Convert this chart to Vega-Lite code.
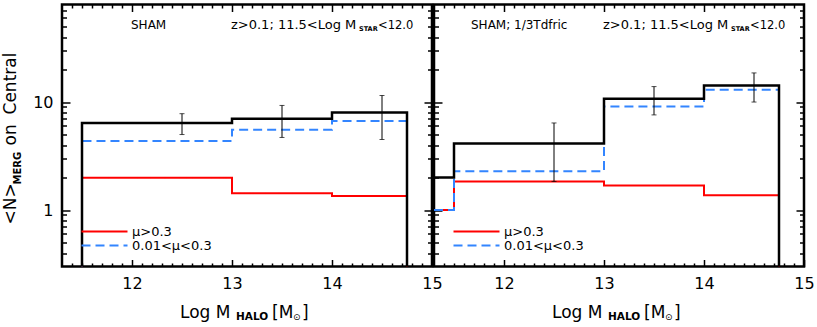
{
  "$schema": "https://vega.github.io/schema/vega-lite/v6.json",
  "background": "white",
  "padding": {"left": 0, "top": 2.5, "right": 0, "bottom": 0},
  "config": {
    "view": {"stroke": "black", "strokeWidth": 2.5},
    "font": "DejaVu Sans",
    "axis": {"grid": false, "domain": false, "ticks": true, "tickColor": "#000000", "tickWidth": 1.5, "tickOpacity": 1, "zindex": 1, "labelColor": "black", "labelFont": "DejaVu Sans", "labelFontSize": 16, "labelOverlap": false, "labelFlush": false, "labelBound": false, "title": null},
    "legend": {"labelFont": "DejaVu Sans", "labelFontSize": 13, "labelColor": "black"},
    "text": {"font": "DejaVu Sans", "color": "black"}
  },
  "datasets": {
    "sham": [
      {"series": "μ>0.3", "logM": 11.5, "n": 0.3, "i": 0},
      {"series": "μ>0.3", "logM": 11.5, "n": 1.99, "i": 1},
      {"series": "μ>0.3", "logM": 13, "n": 1.43, "i": 2},
      {"series": "μ>0.3", "logM": 14, "n": 1.35, "i": 3},
      {"series": "μ>0.3", "logM": 14.75, "n": 0.3, "i": 4},
      {"series": "0.01<μ<0.3", "logM": 11.5, "n": 0.3, "i": 0},
      {"series": "0.01<μ<0.3", "logM": 11.5, "n": 4.36, "i": 1},
      {"series": "0.01<μ<0.3", "logM": 13, "n": 5.55, "i": 2},
      {"series": "0.01<μ<0.3", "logM": 14, "n": 6.67, "i": 3},
      {"series": "0.01<μ<0.3", "logM": 14.75, "n": 0.3, "i": 4},
      {"series": "total", "logM": 11.5, "n": 0.3, "i": 0},
      {"series": "total", "logM": 11.5, "n": 6.4, "i": 1},
      {"series": "total", "logM": 13, "n": 7.0, "i": 2},
      {"series": "total", "logM": 14, "n": 8.0, "i": 3},
      {"series": "total", "logM": 14.75, "n": 0.3, "i": 4}
    ],
    "shamErr": [
      {"logM": 12.5, "lo": 5.0, "hi": 7.8},
      {"logM": 13.5, "lo": 4.7, "hi": 9.3},
      {"logM": 14.5, "lo": 4.5, "hi": 11.5}
    ],
    "tdf": [
      {"series": "μ>0.3", "logM": 11.3, "n": 1.0, "i": 0},
      {"series": "μ>0.3", "logM": 11.5, "n": 1.84, "i": 1},
      {"series": "μ>0.3", "logM": 13, "n": 1.69, "i": 2},
      {"series": "μ>0.3", "logM": 14, "n": 1.37, "i": 3},
      {"series": "μ>0.3", "logM": 14.75, "n": 0.3, "i": 4},
      {"series": "0.01<μ<0.3", "logM": 11.3, "n": 1.0, "i": 0},
      {"series": "0.01<μ<0.3", "logM": 11.5, "n": 2.28, "i": 1},
      {"series": "0.01<μ<0.3", "logM": 13, "n": 9.1, "i": 2},
      {"series": "0.01<μ<0.3", "logM": 14, "n": 13.0, "i": 3},
      {"series": "0.01<μ<0.3", "logM": 14.75, "n": 0.3, "i": 4},
      {"series": "total", "logM": 11.3, "n": 2.0, "i": 0},
      {"series": "total", "logM": 11.5, "n": 4.12, "i": 1},
      {"series": "total", "logM": 13, "n": 10.7, "i": 2},
      {"series": "total", "logM": 14, "n": 14.2, "i": 3},
      {"series": "total", "logM": 14.75, "n": 0.3, "i": 4}
    ],
    "tdfErr": [
      {"logM": 12.5, "lo": 1.84, "hi": 6.4},
      {"logM": 13.5, "lo": 7.6, "hi": 13.9},
      {"logM": 14.5, "lo": 10.0, "hi": 18.6}
    ]
  },
  "bounds": "flush",
  "spacing": 2,
  "resolve": {
    "scale": {"color": "independent", "strokeDash": "independent"},
    "legend": {"color": "independent", "strokeDash": "independent"}
  },
  "hconcat": [
    {
      "width": 370,
      "height": 262,
      "resolve": {"axis": {"x": "independent", "y": "independent"}},
      "layer": [
        {
          "data": {"name": "sham"},
          "transform": [{"filter": "datum.series != 'total'"}],
          "mark": {"type": "line", "interpolate": "step-after", "strokeWidth": 2, "clip": true},
          "encoding": {
            "x": {"field": "logM", "type": "quantitative", "scale": {"domain": [11.3, 15], "nice": false, "zero": false},
              "axis": {"orient": "bottom", "values": [12, 13, 14, 15], "format": "d", "tickSize": 7, "offset": -7, "labelPadding": 9}},
            "y": {"field": "n", "type": "quantitative", "scale": {"type": "log", "domain": [0.3, 80], "nice": false},
              "axis": {"orient": "left", "values": [1, 10], "format": "d", "tickSize": 8, "offset": -8, "labelPadding": 9}},
            "color": {"field": "series", "type": "nominal", "scale": {"domain": ["μ>0.3", "0.01<μ<0.3"], "range": ["#ff0000", "#3385ff"]},
              "legend": {"orient": "none", "legendX": 36, "legendY": 220.5, "title": null, "symbolType": "M-4.6,0H4.6", "symbolSize": 100, "symbolStrokeWidth": 2, "labelOffset": 21, "rowPadding": -1, "padding": 0}},
            "strokeDash": {"field": "series", "type": "nominal", "scale": {"domain": ["μ>0.3", "0.01<μ<0.3"], "range": [[1, 0], [9, 5]]},
              "legend": {"orient": "none", "legendX": 36, "legendY": 220.5, "title": null, "symbolType": "M-4.6,0H4.6", "symbolSize": 100, "symbolStrokeWidth": 2, "labelOffset": 21, "rowPadding": -1, "padding": 0}},
            "order": {"field": "i", "type": "quantitative"}
          }
        },
        {
          "data": {"name": "sham"},
          "transform": [{"filter": "datum.series == 'total'"}],
          "mark": {"type": "line", "interpolate": "step-after", "strokeWidth": 2.5, "color": "black", "clip": true},
          "encoding": {
            "x": {"field": "logM", "type": "quantitative",
              "axis": {"orient": "top", "labels": false, "values": [12, 13, 14], "tickSize": 7, "offset": -7}},
            "y": {"field": "n", "type": "quantitative",
              "axis": {"orient": "right", "labels": false, "values": [1, 10], "tickSize": 8, "offset": -8}},
            "order": {"field": "i", "type": "quantitative"}
          }
        },
        {
          "data": {"name": "shamErr"},
          "mark": {"type": "rule", "color": "black", "strokeWidth": 1},
          "encoding": {
            "x": {"field": "logM", "type": "quantitative",
              "axis": {"orient": "bottom", "labels": false, "values": [11.4,11.5,11.6,11.7,11.8,11.9,12.1,12.2,12.3,12.4,12.5,12.6,12.7,12.8,12.9,13.1,13.2,13.3,13.4,13.5,13.6,13.7,13.8,13.9,14.1,14.2,14.3,14.4,14.5,14.6,14.7,14.8,14.9], "tickSize": 3.5, "offset": -3.5}},
            "y": {"field": "lo", "type": "quantitative",
              "axis": {"orient": "left", "labels": false, "values": [0.4,0.5,0.6,0.7,0.8,0.9,2,3,4,5,6,7,8,9,20,30,40,50,60,70], "tickSize": 4.5, "offset": -4.5}},
            "y2": {"field": "hi"}
          }
        },
        {
          "data": {"name": "shamErr"},
          "mark": {"type": "tick", "orient": "horizontal", "color": "black", "size": 5, "thickness": 1},
          "encoding": {
            "x": {"field": "logM", "type": "quantitative",
              "axis": {"orient": "top", "labels": false, "values": [11.4,11.5,11.6,11.7,11.8,11.9,12.1,12.2,12.3,12.4,12.5,12.6,12.7,12.8,12.9,13.1,13.2,13.3,13.4,13.5,13.6,13.7,13.8,13.9,14.1,14.2,14.3,14.4,14.5,14.6,14.7,14.8,14.9], "tickSize": 3.5, "offset": -3.5}},
            "y": {"field": "lo", "type": "quantitative",
              "axis": {"orient": "right", "labels": false, "values": [0.4,0.5,0.6,0.7,0.8,0.9,2,3,4,5,6,7,8,9,20,30,40,50,60,70], "tickSize": 4.5, "offset": -4.5}}
          }
        },
        {
          "data": {"name": "shamErr"},
          "mark": {"type": "tick", "orient": "horizontal", "color": "black", "size": 5, "thickness": 1},
          "encoding": {
            "x": {"field": "logM", "type": "quantitative", "axis": null},
            "y": {"field": "hi", "type": "quantitative", "axis": null}
          }
        },
        {
          "data": {"values": [{}]},
          "mark": {"type": "text", "text": "SHAM", "align": "left", "baseline": "alphabetic", "fontSize": 12},
          "encoding": {"x": {"datum": 11.99, "type": "quantitative", "axis": null}, "y": {"datum": 47, "type": "quantitative", "axis": null}}
        },
        {
          "data": {"values": [{}]},
          "mark": {"type": "text", "text": "z>0.1; 11.5<Log M", "align": "left", "baseline": "alphabetic", "fontSize": 13},
          "encoding": {"x": {"datum": 12.99, "type": "quantitative", "axis": null}, "y": {"datum": 47, "type": "quantitative", "axis": null}}
        },
        {
          "data": {"values": [{}]},
          "mark": {"type": "text", "text": "STAR", "align": "left", "baseline": "alphabetic", "fontSize": 6.5, "fontWeight": "bold", "dy": 1.5},
          "encoding": {"x": {"datum": 14.27, "type": "quantitative", "axis": null}, "y": {"datum": 47, "type": "quantitative", "axis": null}}
        },
        {
          "data": {"values": [{}]},
          "mark": {"type": "text", "text": "<12.0", "align": "left", "baseline": "alphabetic", "fontSize": 11.5},
          "encoding": {"x": {"datum": 14.46, "type": "quantitative", "axis": null}, "y": {"datum": 47, "type": "quantitative", "axis": null}}
        },
        {
          "data": {"values": [{}]},
          "mark": {"type": "text", "text": "Log M", "align": "left", "baseline": "alphabetic", "fontSize": 17},
          "encoding": {"x": {"datum": 12.48, "type": "quantitative", "axis": null}, "y": {"datum": 0.1, "type": "quantitative", "axis": null}}
        },
        {
          "data": {"values": [{}]},
          "mark": {"type": "text", "text": "HALO", "align": "left", "baseline": "alphabetic", "fontSize": 10.5, "fontWeight": "bold", "dy": 1.5},
          "encoding": {"x": {"datum": 13.04, "type": "quantitative", "axis": null}, "y": {"datum": 0.1, "type": "quantitative", "axis": null}}
        },
        {
          "data": {"values": [{}]},
          "mark": {"type": "text", "text": "[M", "align": "left", "baseline": "alphabetic", "fontSize": 17},
          "encoding": {"x": {"datum": 13.4, "type": "quantitative", "axis": null}, "y": {"datum": 0.1, "type": "quantitative", "axis": null}}
        },
        {
          "data": {"values": [{}]},
          "mark": {"type": "text", "text": "⊙", "align": "left", "baseline": "alphabetic", "fontSize": 9, "dy": 1.5},
          "encoding": {"x": {"datum": 13.61, "type": "quantitative", "axis": null}, "y": {"datum": 0.1, "type": "quantitative", "axis": null}}
        },
        {
          "data": {"values": [{}]},
          "mark": {"type": "text", "text": "]", "align": "left", "baseline": "alphabetic", "fontSize": 17},
          "encoding": {"x": {"datum": 13.7, "type": "quantitative", "axis": null}, "y": {"datum": 0.1, "type": "quantitative", "axis": null}}
        },
        {
          "data": {"values": [{}]},
          "mark": {"type": "text", "text": "<N>", "align": "left", "baseline": "alphabetic", "fontSize": 17, "angle": 270},
          "encoding": {"x": {"datum": 10.835, "type": "quantitative", "axis": null}, "y": {"datum": 0.734, "type": "quantitative", "axis": null}}
        },
        {
          "data": {"values": [{}]},
          "mark": {"type": "text", "text": "MERG", "align": "left", "baseline": "alphabetic", "fontSize": 10, "fontWeight": "bold", "angle": 270, "dy": 5},
          "encoding": {"x": {"datum": 10.835, "type": "quantitative", "axis": null}, "y": {"datum": 1.723, "type": "quantitative", "axis": null}}
        },
        {
          "data": {"values": [{}]},
          "mark": {"type": "text", "text": "on", "align": "left", "baseline": "alphabetic", "fontSize": 17, "angle": 270},
          "encoding": {"x": {"datum": 10.835, "type": "quantitative", "axis": null}, "y": {"datum": 3.96, "type": "quantitative", "axis": null}}
        },
        {
          "data": {"values": [{}]},
          "mark": {"type": "text", "text": "Central", "align": "left", "baseline": "alphabetic", "fontSize": 17, "angle": 270},
          "encoding": {"x": {"datum": 10.835, "type": "quantitative", "axis": null}, "y": {"datum": 7.67, "type": "quantitative", "axis": null}}
        }
      ]
    },
    {
      "width": 370,
      "height": 262,
      "resolve": {"axis": {"x": "independent", "y": "independent"}},
      "layer": [
        {
          "data": {"name": "tdf"},
          "transform": [{"filter": "datum.series != 'total'"}],
          "mark": {"type": "line", "interpolate": "step-after", "strokeWidth": 2, "clip": true},
          "encoding": {
            "x": {"field": "logM", "type": "quantitative", "scale": {"domain": [11.3, 15], "nice": false, "zero": false},
              "axis": {"orient": "bottom", "values": [12, 13, 14, 15], "format": "d", "tickSize": 7, "offset": -7, "labelPadding": 9}},
            "y": {"field": "n", "type": "quantitative", "scale": {"type": "log", "domain": [0.3, 80], "nice": false},
              "axis": {"orient": "left", "labels": false, "values": [1, 10], "tickSize": 8, "offset": -8}},
            "color": {"field": "series", "type": "nominal", "scale": {"domain": ["μ>0.3", "0.01<μ<0.3"], "range": ["#ff0000", "#3385ff"]},
              "legend": {"orient": "none", "legendX": 36, "legendY": 220.5, "title": null, "symbolType": "M-4.6,0H4.6", "symbolSize": 100, "symbolStrokeWidth": 2, "labelOffset": 21, "rowPadding": -1, "padding": 0}},
            "strokeDash": {"field": "series", "type": "nominal", "scale": {"domain": ["μ>0.3", "0.01<μ<0.3"], "range": [[1, 0], [9, 5]]},
              "legend": {"orient": "none", "legendX": 36, "legendY": 220.5, "title": null, "symbolType": "M-4.6,0H4.6", "symbolSize": 100, "symbolStrokeWidth": 2, "labelOffset": 21, "rowPadding": -1, "padding": 0}},
            "order": {"field": "i", "type": "quantitative"}
          }
        },
        {
          "data": {"name": "tdf"},
          "transform": [{"filter": "datum.series == 'total'"}],
          "mark": {"type": "line", "interpolate": "step-after", "strokeWidth": 2.5, "color": "black", "clip": true},
          "encoding": {
            "x": {"field": "logM", "type": "quantitative",
              "axis": {"orient": "top", "labels": false, "values": [12, 13, 14], "tickSize": 7, "offset": -7}},
            "y": {"field": "n", "type": "quantitative",
              "axis": {"orient": "right", "labels": false, "values": [1, 10], "tickSize": 8, "offset": -8}},
            "order": {"field": "i", "type": "quantitative"}
          }
        },
        {
          "data": {"name": "tdfErr"},
          "mark": {"type": "rule", "color": "black", "strokeWidth": 1},
          "encoding": {
            "x": {"field": "logM", "type": "quantitative",
              "axis": {"orient": "bottom", "labels": false, "values": [11.4,11.5,11.6,11.7,11.8,11.9,12.1,12.2,12.3,12.4,12.5,12.6,12.7,12.8,12.9,13.1,13.2,13.3,13.4,13.5,13.6,13.7,13.8,13.9,14.1,14.2,14.3,14.4,14.5,14.6,14.7,14.8,14.9], "tickSize": 3.5, "offset": -3.5}},
            "y": {"field": "lo", "type": "quantitative",
              "axis": {"orient": "left", "labels": false, "values": [0.4,0.5,0.6,0.7,0.8,0.9,2,3,4,5,6,7,8,9,20,30,40,50,60,70], "tickSize": 4.5, "offset": -4.5}},
            "y2": {"field": "hi"}
          }
        },
        {
          "data": {"name": "tdfErr"},
          "mark": {"type": "tick", "orient": "horizontal", "color": "black", "size": 5, "thickness": 1},
          "encoding": {
            "x": {"field": "logM", "type": "quantitative",
              "axis": {"orient": "top", "labels": false, "values": [11.4,11.5,11.6,11.7,11.8,11.9,12.1,12.2,12.3,12.4,12.5,12.6,12.7,12.8,12.9,13.1,13.2,13.3,13.4,13.5,13.6,13.7,13.8,13.9,14.1,14.2,14.3,14.4,14.5,14.6,14.7,14.8,14.9], "tickSize": 3.5, "offset": -3.5}},
            "y": {"field": "lo", "type": "quantitative",
              "axis": {"orient": "right", "labels": false, "values": [0.4,0.5,0.6,0.7,0.8,0.9,2,3,4,5,6,7,8,9,20,30,40,50,60,70], "tickSize": 4.5, "offset": -4.5}}
          }
        },
        {
          "data": {"name": "tdfErr"},
          "mark": {"type": "tick", "orient": "horizontal", "color": "black", "size": 5, "thickness": 1},
          "encoding": {
            "x": {"field": "logM", "type": "quantitative", "axis": null},
            "y": {"field": "hi", "type": "quantitative", "axis": null}
          }
        },
        {
          "data": {"values": [{}]},
          "mark": {"type": "text", "text": "SHAM; 1/3Tdfric", "align": "left", "baseline": "alphabetic", "fontSize": 12},
          "encoding": {"x": {"datum": 11.67, "type": "quantitative", "axis": null}, "y": {"datum": 47, "type": "quantitative", "axis": null}}
        },
        {
          "data": {"values": [{}]},
          "mark": {"type": "text", "text": "z>0.1; 11.5<Log M", "align": "left", "baseline": "alphabetic", "fontSize": 13},
          "encoding": {"x": {"datum": 12.99, "type": "quantitative", "axis": null}, "y": {"datum": 47, "type": "quantitative", "axis": null}}
        },
        {
          "data": {"values": [{}]},
          "mark": {"type": "text", "text": "STAR", "align": "left", "baseline": "alphabetic", "fontSize": 6.5, "fontWeight": "bold", "dy": 1.5},
          "encoding": {"x": {"datum": 14.27, "type": "quantitative", "axis": null}, "y": {"datum": 47, "type": "quantitative", "axis": null}}
        },
        {
          "data": {"values": [{}]},
          "mark": {"type": "text", "text": "<12.0", "align": "left", "baseline": "alphabetic", "fontSize": 11.5},
          "encoding": {"x": {"datum": 14.46, "type": "quantitative", "axis": null}, "y": {"datum": 47, "type": "quantitative", "axis": null}}
        },
        {
          "data": {"values": [{}]},
          "mark": {"type": "text", "text": "Log M", "align": "left", "baseline": "alphabetic", "fontSize": 17},
          "encoding": {"x": {"datum": 12.48, "type": "quantitative", "axis": null}, "y": {"datum": 0.1, "type": "quantitative", "axis": null}}
        },
        {
          "data": {"values": [{}]},
          "mark": {"type": "text", "text": "HALO", "align": "left", "baseline": "alphabetic", "fontSize": 10.5, "fontWeight": "bold", "dy": 1.5},
          "encoding": {"x": {"datum": 13.04, "type": "quantitative", "axis": null}, "y": {"datum": 0.1, "type": "quantitative", "axis": null}}
        },
        {
          "data": {"values": [{}]},
          "mark": {"type": "text", "text": "[M", "align": "left", "baseline": "alphabetic", "fontSize": 17},
          "encoding": {"x": {"datum": 13.4, "type": "quantitative", "axis": null}, "y": {"datum": 0.1, "type": "quantitative", "axis": null}}
        },
        {
          "data": {"values": [{}]},
          "mark": {"type": "text", "text": "⊙", "align": "left", "baseline": "alphabetic", "fontSize": 9, "dy": 1.5},
          "encoding": {"x": {"datum": 13.61, "type": "quantitative", "axis": null}, "y": {"datum": 0.1, "type": "quantitative", "axis": null}}
        },
        {
          "data": {"values": [{}]},
          "mark": {"type": "text", "text": "]", "align": "left", "baseline": "alphabetic", "fontSize": 17},
          "encoding": {"x": {"datum": 13.7, "type": "quantitative", "axis": null}, "y": {"datum": 0.1, "type": "quantitative", "axis": null}}
        }
      ]
    }
  ]
}
